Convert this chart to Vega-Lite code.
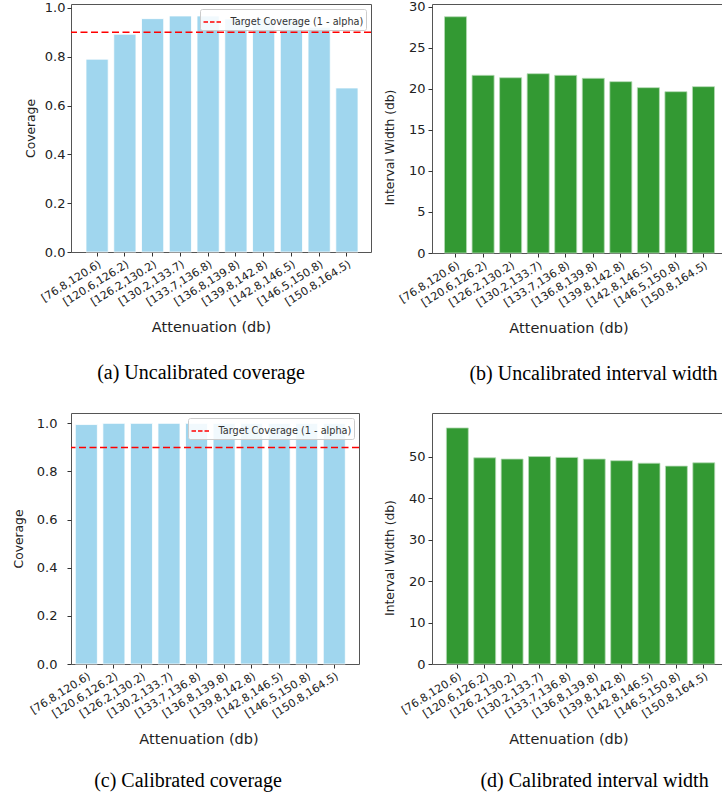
{
  "$schema": "https://vega.github.io/schema/vega-lite/v6.json",
  "padding": {"left": 11, "top": 0, "right": 0, "bottom": 0},
  "background": "white",
  "datasets": {
    "bars": [
      {"panel": "a", "bin": "[76.8,120.6)", "value": 0.79},
      {"panel": "a", "bin": "[120.6,126.2)", "value": 0.892},
      {"panel": "a", "bin": "[126.2,130.2)", "value": 0.956},
      {"panel": "a", "bin": "[130.2,133.7)", "value": 0.967},
      {"panel": "a", "bin": "[133.7,136.8)", "value": 0.967},
      {"panel": "a", "bin": "[136.8,139.8)", "value": 0.955},
      {"panel": "a", "bin": "[139.8,142.8)", "value": 0.955},
      {"panel": "a", "bin": "[142.8,146.5)", "value": 0.955},
      {"panel": "a", "bin": "[146.5,150.8)", "value": 0.921},
      {"panel": "a", "bin": "[150.8,164.5)", "value": 0.672},
      {"panel": "b", "bin": "[76.8,120.6)", "value": 28.78},
      {"panel": "b", "bin": "[120.6,126.2)", "value": 21.64},
      {"panel": "b", "bin": "[126.2,130.2)", "value": 21.35},
      {"panel": "b", "bin": "[130.2,133.7)", "value": 21.84},
      {"panel": "b", "bin": "[133.7,136.8)", "value": 21.64},
      {"panel": "b", "bin": "[136.8,139.8)", "value": 21.28},
      {"panel": "b", "bin": "[139.8,142.8)", "value": 20.87},
      {"panel": "b", "bin": "[142.8,146.5)", "value": 20.14},
      {"panel": "b", "bin": "[146.5,150.8)", "value": 19.65},
      {"panel": "b", "bin": "[150.8,164.5)", "value": 20.26},
      {"panel": "c", "bin": "[76.8,120.6)", "value": 0.995},
      {"panel": "c", "bin": "[120.6,126.2)", "value": 1.0},
      {"panel": "c", "bin": "[126.2,130.2)", "value": 1.0},
      {"panel": "c", "bin": "[130.2,133.7)", "value": 1.0},
      {"panel": "c", "bin": "[133.7,136.8)", "value": 1.0},
      {"panel": "c", "bin": "[136.8,139.8)", "value": 1.0},
      {"panel": "c", "bin": "[139.8,142.8)", "value": 1.0},
      {"panel": "c", "bin": "[142.8,146.5)", "value": 1.0},
      {"panel": "c", "bin": "[146.5,150.8)", "value": 1.0},
      {"panel": "c", "bin": "[150.8,164.5)", "value": 1.0},
      {"panel": "d", "bin": "[76.8,120.6)", "value": 56.9},
      {"panel": "d", "bin": "[120.6,126.2)", "value": 49.7},
      {"panel": "d", "bin": "[126.2,130.2)", "value": 49.4},
      {"panel": "d", "bin": "[130.2,133.7)", "value": 50.0},
      {"panel": "d", "bin": "[133.7,136.8)", "value": 49.8},
      {"panel": "d", "bin": "[136.8,139.8)", "value": 49.4},
      {"panel": "d", "bin": "[139.8,142.8)", "value": 49.0},
      {"panel": "d", "bin": "[142.8,146.5)", "value": 48.4},
      {"panel": "d", "bin": "[146.5,150.8)", "value": 47.7},
      {"panel": "d", "bin": "[150.8,164.5)", "value": 48.5}
    ],
    "target": [{"target": 0.9}]
  },
  "config": {
    "view": {"stroke": "#555555", "strokeWidth": 1},
    "axis": {
      "labelFont": "DejaVu Sans", "titleFont": "DejaVu Sans",
      "labelColor": "#222222", "titleColor": "#222222",
      "titleFontWeight": "normal", "grid": false, "domain": false,
      "tickColor": "#333333", "tickSize": 4
    },
    "axisX": {"labelAngle": -32, "labelFontSize": 11, "titleFontSize": 14.5, "labelPadding": 2, "titlePadding": 13},
    "axisY": {"labelFontSize": 13, "titleFontSize": 12.3, "labelPadding": 3},
    "legend": {
      "orient": "top-right", "offset": 5, "padding": 2.5,
      "fillColor": "rgba(255,255,255,0.85)", "strokeColor": "#cccccc", "cornerRadius": 2,
      "labelFont": "DejaVu Sans", "labelFontSize": 9.7, "labelColor": "#333333",
      "symbolType": "stroke", "symbolSize": 360, "symbolStrokeWidth": 1.5,
      "symbolDash": [4.5, 2], "labelOffset": 7
    },
    "title": {
      "font": "Liberation Serif", "fontSize": 20, "fontWeight": "normal",
      "orient": "bottom", "anchor": "middle", "frame": "group", "offset": 29, "color": "#000000"
    }
  },
  "columns": 2,
  "spacing": {"row": 27, "column": 9},
  "resolve": {"scale": {"color": "independent"}, "legend": {"color": "independent"}},
  "concat": [
    {
      "width": 300, "height": 248,
      "title": {"text": "(a) Uncalibrated coverage", "dx": -20},
      "layer": [
        {
          "data": {"name": "bars"},
          "transform": [{"filter": "datum.panel == 'a'"}],
          "mark": {"type": "bar", "color": "#a0d6ee", "stroke": "#ffffff", "strokeWidth": 0.8},
          "encoding": {
            "x": {"field": "bin", "type": "nominal", "sort": null,
                  "scale": {"paddingInner": 0.2, "paddingOuter": 0.504, "align": 0.536},
                  "axis": {"title": "Attenuation (db)", "titleX": 140}},
            "y": {"field": "value", "type": "quantitative",
                  "scale": {"domain": [0, 1.016], "nice": false},
                  "axis": {"title": "Coverage", "values": [0, 0.2, 0.4, 0.6, 0.8, 1.0], "format": ".1f", "labelPadding": 2, "titlePadding": 7}}
          }
        },
        {
          "data": {"name": "target"},
          "mark": {"type": "rule", "strokeDash": [7, 3.5], "strokeWidth": 1.5},
          "encoding": {
            "y": {"field": "target", "type": "quantitative"},
            "color": {"datum": "Target Coverage (1 - alpha)", "scale": {"range": ["#ff0000"]}, "legend": {"title": null}}
          }
        }
      ]
    },
    {
      "width": 295, "height": 249,
      "title": {"text": "(b) Uncalibrated interval width", "dx": 14},
      "data": {"name": "bars"},
      "transform": [{"filter": "datum.panel == 'b'"}],
      "mark": {"type": "bar", "color": "#339933", "stroke": "#b5dab5", "strokeWidth": 0.8},
      "encoding": {
        "x": {"field": "bin", "type": "nominal", "sort": null,
              "scale": {"paddingInner": 0.2, "paddingOuter": 0.454, "align": 0.5},
              "axis": {"title": "Attenuation (db)", "titleX": 136.5}},
        "y": {"field": "value", "type": "quantitative",
              "scale": {"domain": [0, 30.33], "nice": false},
              "axis": {"title": "Interval Width (db)", "values": [0, 5, 10, 15, 20, 25, 30], "titlePadding": 12, "titleY": 143}}
      }
    },
    {
      "width": 288, "height": 251,
      "title": {"text": "(c) Calibrated coverage", "dx": -27, "offset": 25},
      "layer": [
        {
          "data": {"name": "bars"},
          "transform": [{"filter": "datum.panel == 'c'"}],
          "mark": {"type": "bar", "color": "#a0d6ee", "stroke": "#ffffff", "strokeWidth": 0.8},
          "encoding": {
            "x": {"field": "bin", "type": "nominal", "sort": null,
                  "scale": {"paddingInner": 0.2, "paddingOuter": 0.327, "align": 0.24},
                  "axis": {"title": "Attenuation (db)", "titleX": 127.5}},
            "y": {"field": "value", "type": "quantitative",
                  "scale": {"domain": [0, 1.043], "nice": false},
                  "axis": {"title": "Coverage", "values": [0, 0.2, 0.4, 0.6, 0.8, 1.0], "format": ".1f", "labelPadding": 10, "titlePadding": 11}}
          }
        },
        {
          "data": {"name": "target"},
          "mark": {"type": "rule", "strokeDash": [7, 3.5], "strokeWidth": 1.5},
          "encoding": {
            "y": {"field": "target", "type": "quantitative"},
            "color": {"datum": "Target Coverage (1 - alpha)", "scale": {"range": ["#ff0000"]}, "legend": {"title": null}}
          }
        }
      ]
    },
    {
      "width": 295, "height": 251,
      "title": {"text": "(d) Calibrated interval width", "dx": 15, "offset": 25},
      "data": {"name": "bars"},
      "transform": [{"filter": "datum.panel == 'd'"}],
      "mark": {"type": "bar", "color": "#339933", "stroke": "#b5dab5", "strokeWidth": 0.8},
      "encoding": {
        "x": {"field": "bin", "type": "nominal", "sort": null,
              "scale": {"paddingInner": 0.2, "paddingOuter": 0.487, "align": 0.54},
              "axis": {"title": "Attenuation (db)", "titleX": 136.5}},
        "y": {"field": "value", "type": "quantitative",
              "scale": {"domain": [0, 60.5], "nice": false},
              "axis": {"title": "Interval Width (db)", "values": [0, 10, 20, 30, 40, 50], "titlePadding": 12, "titleY": 144.5}}
      }
    }
  ]
}
